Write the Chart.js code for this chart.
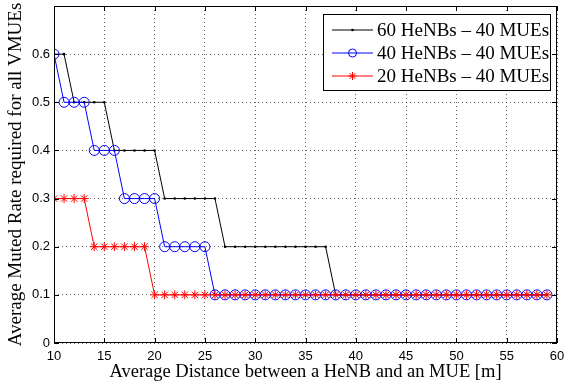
<!DOCTYPE html>
<html>
<head>
<meta charset="utf-8">
<script src="https://cdn.jsdelivr.net/npm/chart.js@4/dist/chart.umd.min.js"></script>
<style>
  html, body { margin: 0; padding: 0; background: #fff; }
  #wrap { width: 564px; height: 385px; }
</style>
</head>
<body>
<div id="wrap"><canvas id="muted"></canvas></div>
<script>
// distances on the x axis [m]
const distances = [10, 11, 12, 13, 14, 15, 16, 17, 18, 19,
                   20, 21, 22, 23, 24, 25, 26, 27, 28, 29,
                   30, 31, 32, 33, 34, 35, 36, 37, 38, 39,
                   40, 41, 42, 43, 44, 45, 46, 47, 48, 49,
                   50, 51, 52, 53, 54, 55, 56, 57, 58, 59];

// muted rate per scenario
const rate60 = [0.6, 0.6, 0.5, 0.5, 0.5, 0.5, 0.4, 0.4, 0.4, 0.4,
                0.4, 0.3, 0.3, 0.3, 0.3, 0.3, 0.3, 0.2, 0.2, 0.2,
                0.2, 0.2, 0.2, 0.2, 0.2, 0.2, 0.2, 0.2, 0.1, 0.1,
                0.1, 0.1, 0.1, 0.1, 0.1, 0.1, 0.1, 0.1, 0.1, 0.1,
                0.1, 0.1, 0.1, 0.1, 0.1, 0.1, 0.1, 0.1, 0.1, 0.1];
const rate40 = [0.6, 0.5, 0.5, 0.5, 0.4, 0.4, 0.4, 0.3, 0.3, 0.3,
                0.3, 0.2, 0.2, 0.2, 0.2, 0.2, 0.1, 0.1, 0.1, 0.1,
                0.1, 0.1, 0.1, 0.1, 0.1, 0.1, 0.1, 0.1, 0.1, 0.1,
                0.1, 0.1, 0.1, 0.1, 0.1, 0.1, 0.1, 0.1, 0.1, 0.1,
                0.1, 0.1, 0.1, 0.1, 0.1, 0.1, 0.1, 0.1, 0.1, 0.1];
const rate20 = [0.3, 0.3, 0.3, 0.3, 0.2, 0.2, 0.2, 0.2, 0.2, 0.2,
                0.1, 0.1, 0.1, 0.1, 0.1, 0.1, 0.1, 0.1, 0.1, 0.1,
                0.1, 0.1, 0.1, 0.1, 0.1, 0.1, 0.1, 0.1, 0.1, 0.1,
                0.1, 0.1, 0.1, 0.1, 0.1, 0.1, 0.1, 0.1, 0.1, 0.1,
                0.1, 0.1, 0.1, 0.1, 0.1, 0.1, 0.1, 0.1, 0.1, 0.1];

const seriesNames = ['60 HeNBs \u2013 40 MUEs', '40 HeNBs \u2013 40 MUEs', '20 HeNBs \u2013 40 MUEs'];
const xTicks = [10, 15, 20, 25, 30, 35, 40, 45, 50, 55, 60];
const yTicks = [0, 0.1, 0.2, 0.3, 0.4, 0.5, 0.6];

const SERIF = '"Liberation Serif", "Times New Roman", serif';
const SANS = '"Liberation Sans", Arial, sans-serif';

function toPoints(vals) {
    return distances.map((d, i) => ({ x: d, y: vals[i] }));
}

// box, inward ticks (matlab look) and the legend
const matlabFrame = {
    id: 'matlabFrame',
    afterDraw(chart) {
        const { ctx, chartArea: a, scales } = chart;
        ctx.save();
        ctx.strokeStyle = '#000';
        ctx.lineWidth = 1;
        ctx.strokeRect(a.left + 0.5, a.top + 0.5, a.right - a.left - 1, a.bottom - a.top - 1);

        const tl = 5;
        ctx.beginPath();
        xTicks.forEach(v => {
            const px = Math.round(scales.x.getPixelForValue(v)) + 0.5;
            ctx.moveTo(px, a.bottom); ctx.lineTo(px, a.bottom - tl);
            ctx.moveTo(px, a.top); ctx.lineTo(px, a.top + tl);
        });
        yTicks.concat([0.7]).forEach(v => {
            const py = Math.round(scales.y.getPixelForValue(v)) + 0.5;
            ctx.moveTo(a.left, py); ctx.lineTo(a.left + tl, py);
            ctx.moveTo(a.right, py); ctx.lineTo(a.right - tl, py);
        });
        ctx.stroke();

        // legend
        const bx = 323, by = 14, bw = 227, bh = 76;
        ctx.fillStyle = '#fff';
        ctx.fillRect(bx, by, bw, bh);
        ctx.strokeRect(bx + 0.5, by + 0.5, bw, bh);
        ctx.font = '19px ' + SERIF;
        ctx.textBaseline = 'middle';
        ctx.textAlign = 'left';
        chart.data.datasets.forEach((ds, i) => {
            const y = by + 16 + i * 23;
            ctx.strokeStyle = ds.borderColor;
            ctx.lineWidth = 1;
            ctx.beginPath();
            ctx.moveTo(332, y); ctx.lineTo(373, y);
            ctx.stroke();
            const cx = 352.5;
            ctx.beginPath();
            if (ds.pointStyle === 'circle' && ds.pointRadius > 2) {
                ctx.arc(cx, y, 4, 0, Math.PI * 2);
                ctx.stroke();
            } else if (ds.pointStyle === 'star') {
                for (let k = 0; k < 4; k++) {
                    const ang = k * Math.PI / 4;
                    ctx.moveTo(cx - 4 * Math.cos(ang), y - 4 * Math.sin(ang));
                    ctx.lineTo(cx + 4 * Math.cos(ang), y + 4 * Math.sin(ang));
                }
                ctx.stroke();
            } else {
                ctx.fillStyle = ds.borderColor;
                ctx.arc(cx, y, 1.3, 0, Math.PI * 2);
                ctx.fill();
            }
            ctx.fillStyle = '#000';
            ctx.fillText(ds.label, 377, y + 1);
        });
        ctx.restore();
    }
};

new Chart(document.getElementById('muted'), {
    type: 'line',
    data: {
        datasets: [
            {
                label: seriesNames[0], data: toPoints(rate60),
                borderColor: '#000', backgroundColor: '#000', borderWidth: 1,
                pointStyle: 'circle', pointRadius: 1.3, pointBorderWidth: 0,
                order: 3
            },
            {
                label: seriesNames[1], data: toPoints(rate40),
                borderColor: '#0000ff', backgroundColor: 'rgba(0,0,0,0)', borderWidth: 1,
                pointStyle: 'circle', pointRadius: 5, pointBorderWidth: 1,
                order: 2
            },
            {
                label: seriesNames[2], data: toPoints(rate20),
                borderColor: '#ff0000', backgroundColor: '#ff0000', borderWidth: 1,
                pointStyle: 'star', pointRadius: 4.5, pointBorderWidth: 1,
                order: 1
            }
        ]
    },
    options: {
        responsive: true,
        maintainAspectRatio: false,
        animation: false,
        layout: { padding: { top: 6, right: 7, left: 0, bottom: 0 } },
        plugins: { legend: { display: false }, tooltip: { enabled: false } },
        elements: { line: { tension: 0 } },
        scales: {
            x: {
                type: 'linear', min: 10, max: 60,
                afterFit(s) { s.height = 42; s.paddingLeft = 0; s.paddingRight = 0; },
                afterBuildTicks(s) { s.ticks = xTicks.map(v => ({ value: v })); },
                ticks: { color: '#000', font: { family: SANS, size: 13 }, padding: 6, maxRotation: 0 },
                grid: { color: 'rgba(0,0,0,0.6)', drawTicks: false, lineWidth: 1 },
                border: { display: false, dash: [1, 3] },
                title: {
                    display: true, text: 'Average Distance between a HeNB and an MUE [m]',
                    color: '#000', font: { family: SERIF, size: 18.5 }, padding: { top: 0, bottom: 2 }
                }
            },
            y: {
                type: 'linear', min: 0, max: 0.7,
                afterFit(s) { s.width = 54; s.paddingTop = 0; s.paddingBottom = 0; },
                afterBuildTicks(s) { s.ticks = yTicks.concat([0.7]).map(v => ({ value: v })); },
                ticks: {
                    color: '#000', font: { family: SANS, size: 13 }, padding: 4,
                    callback: v => (v > 0.65 ? '' : (v === 0 ? '0' : v.toFixed(1)))
                },
                grid: { color: 'rgba(0,0,0,0.6)', drawTicks: false, lineWidth: 1 },
                border: { display: false, dash: [1, 3] },
                title: {
                    display: true, text: 'Average Muted Rate required for all VMUEs',
                    color: '#000', font: { family: SERIF, size: 19 }, padding: { top: 5, bottom: 0 }
                }
            }
        }
    },
    plugins: [matlabFrame]
});
</script>
</body>
</html>
